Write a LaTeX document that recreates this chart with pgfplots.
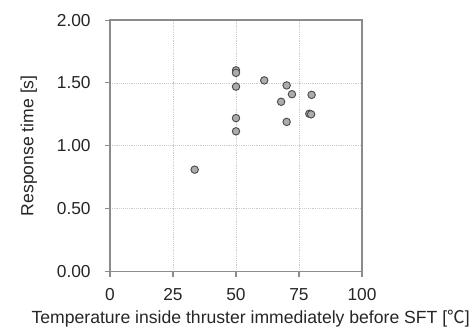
\documentclass[border=0pt]{standalone}
\usepackage{pgfplots}
\pgfplotsset{compat=1.18}
\usepackage{fontspec}
\setmainfont{Liberation Sans}
\newfontfamily\cjk{Noto Sans CJK JP}
\begin{document}
\begin{tikzpicture}[x=0.75pt,y=0.75pt]
\useasboundingbox (-110,-57.5) rectangle (364,271.5);
\begin{axis}[
  at={(0,0)}, anchor=south west,
  scale only axis,
  width=189pt, height=188.6pt,
  xmin=0, xmax=100, ymin=0, ymax=2,
  xtick={0,25,50,75,100},
  ytick={0,0.5,1,1.5,2},
  /pgf/number format/assume math mode=true,
  yticklabel style={/pgf/number format/fixed,/pgf/number format/fixed zerofill,/pgf/number format/precision=2, xshift=-7pt},
  xticklabel style={yshift=-5pt},
  font=\fontsize{12.5}{14}\selectfont,
  tick label style={font=\fontsize{13}{15}\selectfont, text=black!85},
  label style={font=\fontsize{13.2}{15}\selectfont, text=black!85},
  axis line style={gray!90, line width=0.9pt},
  tick style={gray!90, line width=0.8pt},
  tick align=outside,
  major tick length=4pt,
  xtick pos=bottom, ytick pos=left,
  grid=major,
  major grid style={densely dotted, gray!40, line width=0.5pt},
  xlabel={Temperature inside thruster immediately before SFT [{\cjk ℃}]},
  ylabel={Response time [s]},
  xlabel style={yshift=0pt, xshift=11pt},
  ylabel style={yshift=8pt},
]
\addplot[only marks, mark=*, mark size=2.8pt,
  mark options={fill=gray!65, draw=black!70, line width=0.7pt}]
  coordinates {
  (50.0,1.60) (50.0,1.58) (50.0,1.47) (61.2,1.52) (70.1,1.48)
  (72.2,1.41) (80.0,1.405) (67.9,1.35) (79.1,1.255) (79.8,1.25)
  (70.1,1.19) (50.0,1.22) (50.0,1.115) (33.6,0.81)
  };
\end{axis}
\end{tikzpicture}
\end{document}
